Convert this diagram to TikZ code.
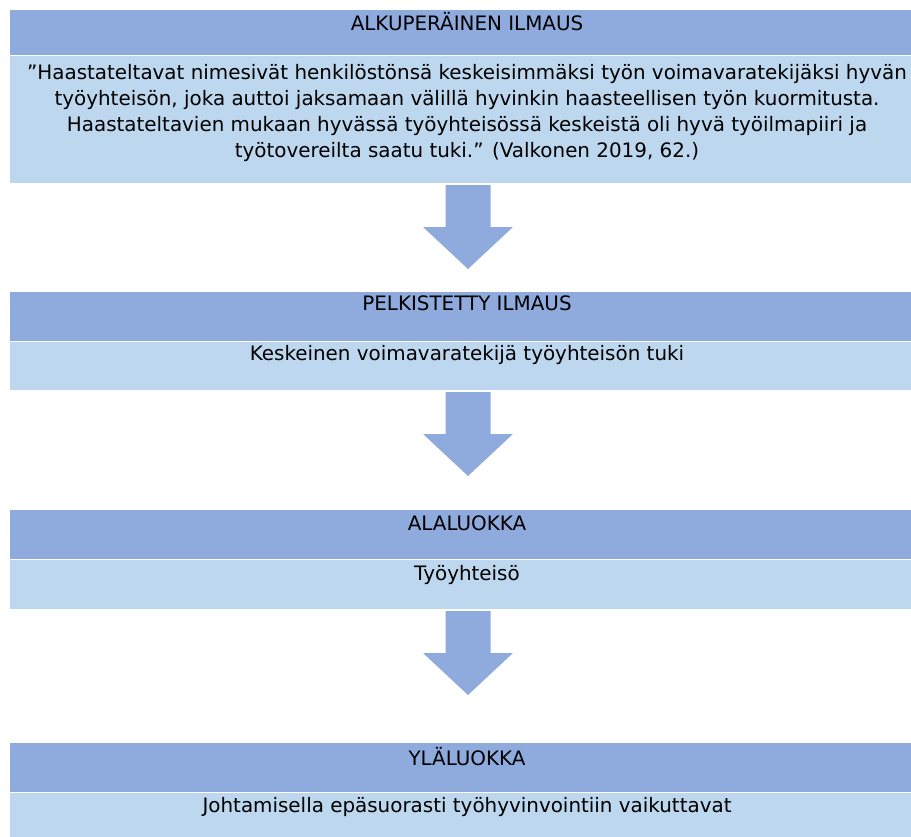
\documentclass[tikz,border=0pt]{standalone}
\usepackage{fontspec}
\setmainfont{DejaVu Sans}
\usetikzlibrary{calc}
\definecolor{hdrblue}{HTML}{8FAADC}
\definecolor{bodyblue}{HTML}{BDD7EE}
\begin{document}
\begin{tikzpicture}[x=1pt,y=-1pt,
  boxbase/.style={draw=white, line width=0.8pt, minimum width=918pt, anchor=north west, inner sep=0pt, outer sep=0pt},
  hdr/.style={boxbase, fill=hdrblue},
  bdy/.style={boxbase, fill=bodyblue},
  ttl/.style={font=\fontsize{19.9}{26}\selectfont, text=black, inner sep=0pt, anchor=center},
  txt/.style={font=\fontsize{19.9}{26}\selectfont, text=black, align=center, inner sep=0pt, anchor=center},
  arr/.style={fill=hdrblue}]
\useasboundingbox (0,0) rectangle (911,836);
\clip (0,0) rectangle (911,836);
% boxes
\node[hdr, minimum height=46pt] (h1) at (9,9) {};
\node[bdy, minimum height=128pt] (b1) at (h1.south west) {};
\node[hdr, minimum height=50pt] (h2) at (9,291) {};
\node[bdy, minimum height=49pt] (b2) at (h2.south west) {};
\node[hdr, minimum height=50pt] (h3) at (9,509) {};
\node[bdy, minimum height=50pt] (b3) at (h3.south west) {};
\node[hdr, minimum height=50pt] (h4) at (9,742) {};
\node[bdy, minimum height=60pt] (b4) at (h4.south west) {};
% texts
\node[ttl] (t1) at (467,22) {ALKUPERÄINEN ILMAUS};
\node[txt] (q1) at (467,113) {”Haastateltavat nimesivät henkilöstönsä keskeisimmäksi työn voimavaratekijäksi hyvän\\
työyhteisön, joka auttoi jaksamaan välillä hyvinkin haasteellisen työn kuormitusta.\\
Haastateltavien mukaan hyvässä työyhteisössä keskeistä oli hyvä työilmapiiri ja\\
työtovereilta saatu tuki.” (Valkonen 2019, 62.)};
\node[ttl] (t2) at (467,303) {PELKISTETTY ILMAUS};
\node[txt] (q2) at (467,355) {Keskeinen voimavaratekijä työyhteisön tuki};
\node[ttl] (t3) at (467,523) {ALALUOKKA};
\node[txt] (q3) at (467,575) {Työyhteisö};
\node[ttl] (t4) at (467,757) {YLÄLUOKKA};
\node[txt] (q4) at (467,807) {Johtamisella epäsuorasti työhyvinvointiin vaikuttavat};
% block arrows
\foreach \b in {b1,b2,b3}{
  \fill[arr] ($(\b.south)+(-22.5,2)$) -- ++(45,0) -- ++(0,42) -- ++(22.5,0)
     -- ++(-45,42) -- ++(-45,-42) -- ++(22.5,0) -- cycle;
}
\end{tikzpicture}
\end{document}
